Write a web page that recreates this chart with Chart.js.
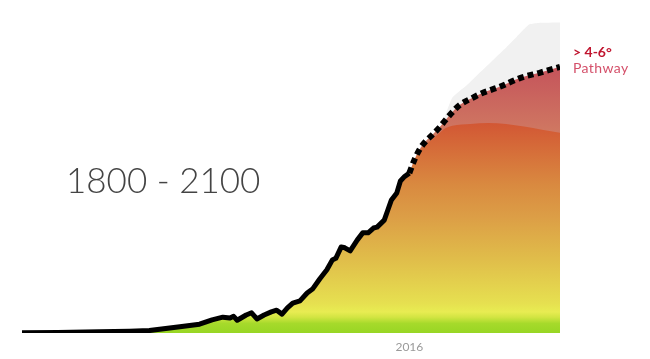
<!DOCTYPE html>
<html>
<head>
<meta charset="utf-8">
<script src="https://cdn.jsdelivr.net/npm/chart.js@4/dist/chart.umd.min.js"></script>
<style>
  html, body { margin: 0; padding: 0; background: #fff; }
  #wrap { position: relative; width: 650px; height: 359px; }
  #title {
    position: absolute; left: 66px; top: 162px;
    font-family: Lato, 'Open Sans', sans-serif; font-weight: 300;
    font-size: 35px; line-height: 35px; color: #444; white-space: nowrap;
  }
  #pathLabel {
    position: absolute; left: 573px; top: 44px;
    font-family: Lato, 'Open Sans', sans-serif; font-size: 14px; line-height: 16px;
    white-space: nowrap;
  }
  #pathLabel .deg { font-weight: 700; color: #c0142e; }
  #pathLabel .name { color: #d4506a; letter-spacing: 0.4px; }
</style>
</head>
<body>
<div id="wrap">
  <canvas id="chart" width="650" height="359"></canvas>
  <div id="title">1800 - 2100</div>
  <div id="pathLabel"><div class="deg">&gt; 4-6°</div><div class="name">Pathway</div></div>
</div>
<script>
// historical emissions (solid black line)
const histYears = [1800, 1820, 1843, 1860, 1871, 1888, 1899, 1906, 1912, 1916, 1918, 1920, 1925, 1928, 1931,
  1935, 1939, 1942, 1945, 1948, 1951, 1955, 1959, 1962, 1966, 1970, 1973, 1975, 1978, 1980, 1983, 1987,
  1990, 1993, 1996, 1998, 2002, 2004, 2006, 2009, 2011, 2013, 2016];
const histValues = [0.05, 0.1, 0.3, 0.4, 0.55, 1.4, 2.0, 3.0, 3.6, 3.4, 3.8, 2.9, 4.1, 4.6, 3.2,
  4.1, 4.8, 5.2, 4.3, 5.7, 6.8, 7.3, 9.1, 10.0, 12.3, 14.4, 16.6, 17.0, 19.6, 19.4, 18.7, 21.2,
  22.8, 22.8, 23.9, 24.1, 25.7, 28.0, 30.3, 31.9, 34.6, 35.5, 36.4];

// > 4-6° pathway (dotted line)
const projYears = [2016, 2019, 2022, 2025, 2029, 2033, 2036, 2040, 2044, 2051, 2057, 2066, 2078, 2089, 2100];
const projValues = [36.4, 39.6, 42.0, 43.6, 45.2, 46.9, 48.4, 50.3, 51.9, 53.5, 54.7, 56.0, 58.1, 59.3, 60.6];

// lower edge of the pathway band
const innerYears = [2019, 2022, 2025, 2029, 2033, 2036, 2040, 2050, 2060, 2070, 2080, 2090, 2100];
const innerValues = [39.4, 41.6, 43.0, 44.2, 45.6, 46.6, 47.2, 47.6, 47.8, 47.6, 47.0, 46.3, 45.6];

// grey upper range
const upperYears = [2016, 2022, 2029, 2034, 2040, 2048, 2055, 2063, 2070, 2076, 2080, 2083, 2088, 2100];
const upperValues = [36.4, 42.0, 45.2, 47.5, 53.6, 56.4, 59.2, 62.3, 65.0, 67.5, 69.2, 70.3, 70.6, 70.7];

const tickYears = [2016];

const pts = (xs, ys) => xs.map((x, i) => ({ x, y: ys[i] }));

function vGradient(ctx, from, to, stops) {
  const chart = ctx.chart;
  if (!chart.chartArea) return 'transparent';
  const y = chart.scales.y;
  const g = chart.ctx.createLinearGradient(0, y.getPixelForValue(from), 0, y.getPixelForValue(to));
  stops.forEach(s => g.addColorStop(s[0], s[1]));
  return g;
}

const mainStops = [
  [0, '#98d624'], [0.045, '#a6da2b'], [0.075, '#d2e542'], [0.1, '#e8ec52'], [0.14, '#e6e050'],
  [0.35, '#e0bd4a'], [0.55, '#dc9e46'], [0.7, '#d98a40'], [0.85, '#d6703a'], [1, '#d25634']
];
const bandStops = [[0, '#d07a62'], [1, '#c4505a']];

new Chart(document.getElementById('chart'), {
  type: 'line',
  data: {
    datasets: [
      {
        data: pts(histYears, histValues),
        borderColor: '#000', borderWidth: 5, borderJoinStyle: 'round',
        pointRadius: 0, fill: false, tension: 0
      },
      {
        data: pts(projYears, projValues),
        borderColor: '#000', borderWidth: 6, borderDash: [6, 4], borderCapStyle: 'butt',
        pointRadius: 0, fill: false, cubicInterpolationMode: 'monotone'
      },
      {
        data: pts(histYears.concat(innerYears), histValues.concat(innerValues)),
        borderWidth: 0, borderColor: 'transparent', pointRadius: 0,
        fill: 'origin', cubicInterpolationMode: 'monotone',
        backgroundColor: ctx => vGradient(ctx, 0, 48, mainStops)
      },
      {
        data: pts(projYears, projValues),
        borderWidth: 0, borderColor: 'transparent', pointRadius: 0,
        fill: 'origin', cubicInterpolationMode: 'monotone',
        backgroundColor: ctx => vGradient(ctx, 45, 62, bandStops)
      },
      {
        data: pts(upperYears, upperValues),
        borderWidth: 0, borderColor: 'transparent', pointRadius: 0,
        fill: 'origin', tension: 0.15,
        backgroundColor: '#f1f1f1'
      }
    ]
  },
  options: {
    responsive: false,
    animation: false,
    layout: { padding: { left: 22, right: 90, top: 8, bottom: 5 } },
    plugins: { legend: { display: false }, tooltip: { enabled: false } },
    scales: {
      x: {
        type: 'linear', min: 1800, max: 2100,
        grid: { display: false, drawTicks: false, tickLength: 0 }, border: { display: false },
        afterBuildTicks: axis => { axis.ticks = tickYears.map(v => ({ value: v })); },
        afterFit: axis => { axis.height = 21; },
        ticks: {
          padding: 7, color: '#9a9a9a', maxRotation: 0,
          font: { family: 'Lato', size: 12 },
          callback: v => String(v)
        }
      },
      y: { display: false, min: 0, max: 74 }
    }
  }
});
</script>
</body>
</html>
